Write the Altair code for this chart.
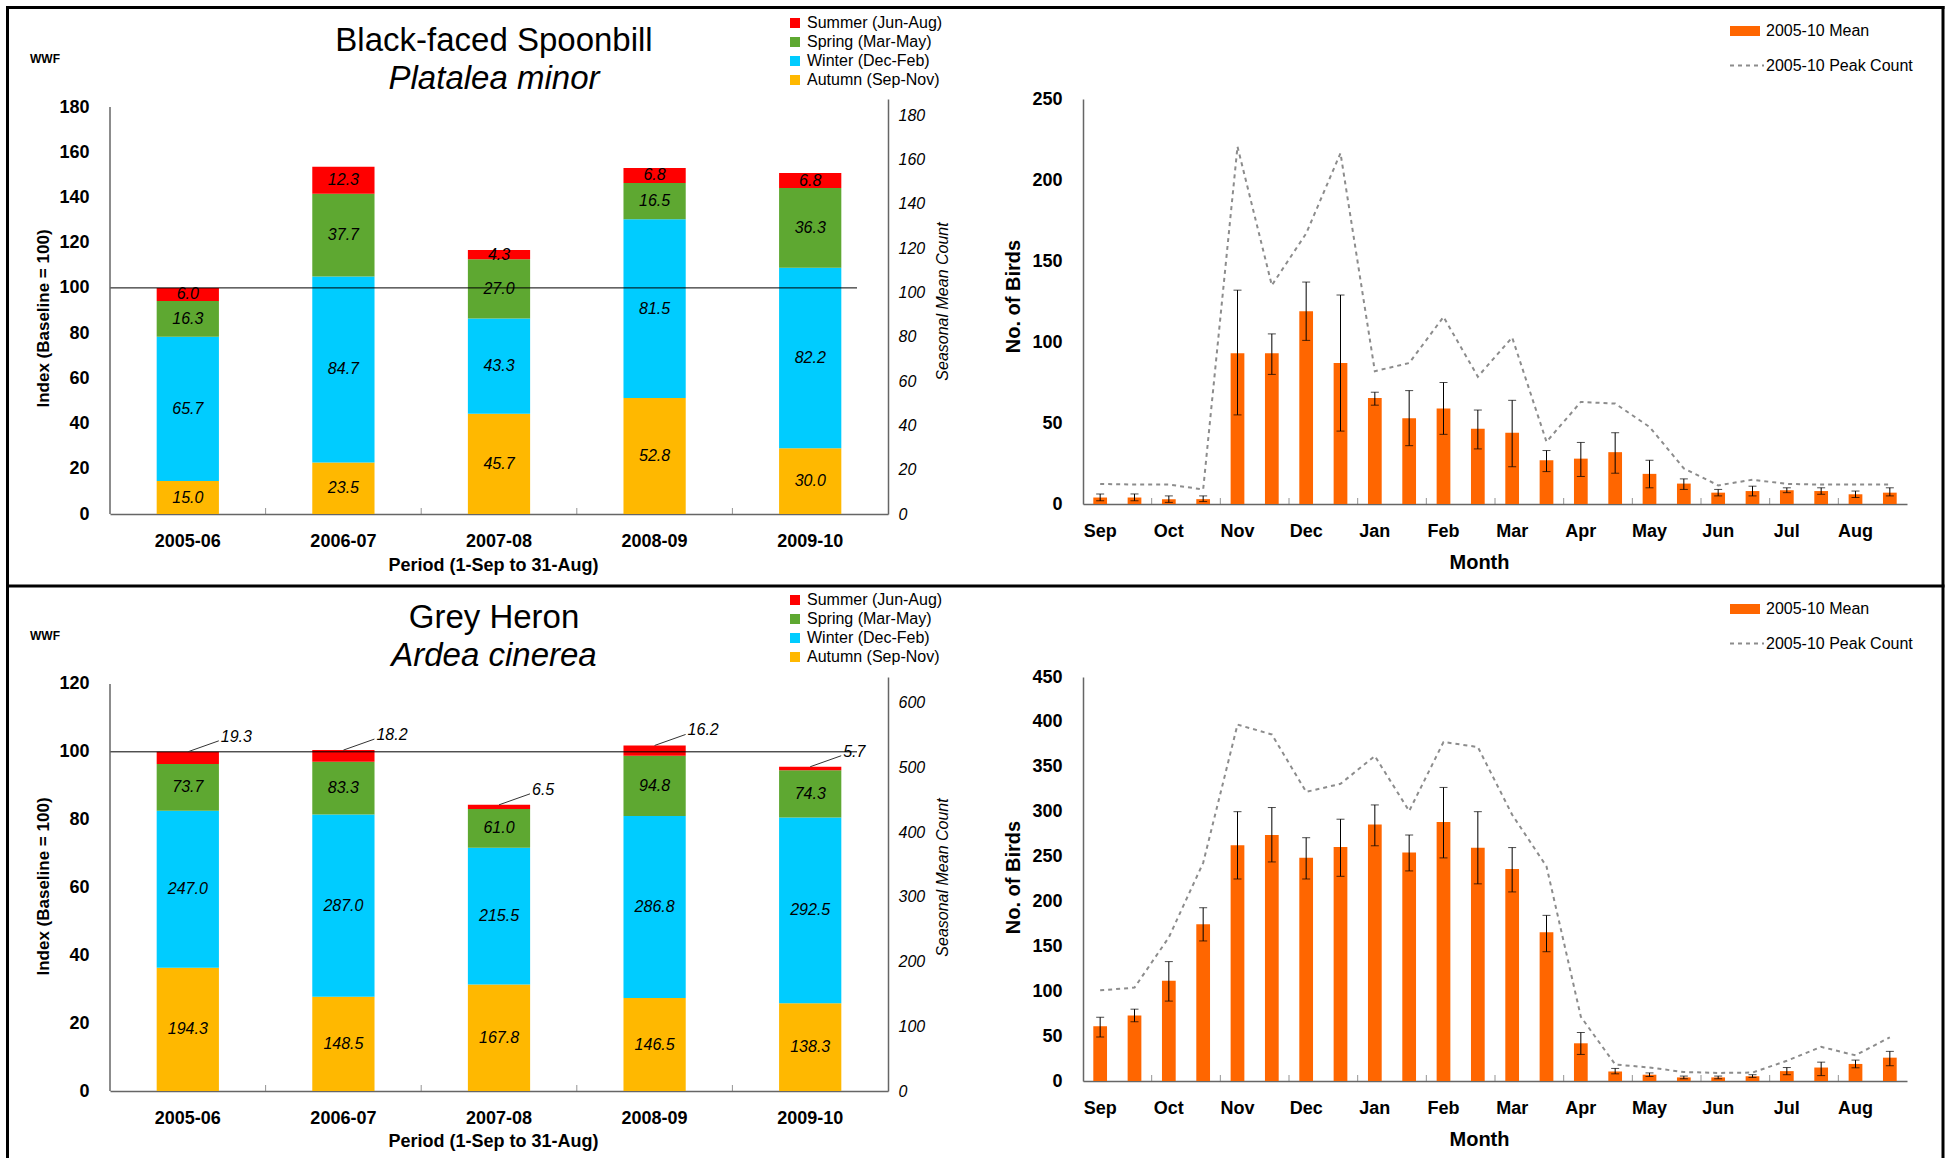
import altair as alt
import pandas as pd

FONT = "Liberation Sans"

# ---------------- data ----------------
periods = ["2005-06", "2006-07", "2007-08", "2008-09", "2009-10"]
season_names = ["Autumn (Sep-Nov)", "Winter (Dec-Feb)", "Spring (Mar-May)", "Summer (Jun-Aug)"]
legend_order = ["Summer (Jun-Aug)", "Spring (Mar-May)", "Winter (Dec-Feb)", "Autumn (Sep-Nov)"]
legend_colors = ["#FF0000", "#5EA831", "#00CCFF", "#FFB800"]

bfs_autumn = [15.0, 23.5, 45.7, 52.8, 30.0]
bfs_winter = [65.7, 84.7, 43.3, 81.5, 82.2]
bfs_spring = [16.3, 37.7, 27.0, 16.5, 36.3]
bfs_summer = [6.0, 12.3, 4.3, 6.8, 6.8]

gh_autumn = [194.3, 148.5, 167.8, 146.5, 138.3]
gh_winter = [247.0, 287.0, 215.5, 286.8, 292.5]
gh_spring = [73.7, 83.3, 61.0, 94.8, 74.3]
gh_summer = [19.3, 18.2, 6.5, 16.2, 5.7]

months = ["Sep", "Oct", "Nov", "Dec", "Jan", "Feb", "Mar", "Apr", "May", "Jun", "Jul", "Aug"]

bfs_mean = [4, 4, 3, 3, 93, 93, 119, 87, 65.5, 53, 59, 46.5, 44, 27, 28, 32, 18.6, 12.6, 7, 8, 8.5, 8, 6, 7]
bfs_lo = [2, 2, 1, 1.5, 55, 80, 101, 45, 61, 36, 43, 34, 23, 20, 17, 19, 10, 9, 5, 5, 7, 6, 4, 5]
bfs_hi = [6.2, 6.2, 5, 5, 132, 105, 137, 129, 69, 70, 75, 58, 64, 33, 38, 44, 27, 15.5, 9, 11, 10, 10, 8, 10]
bfs_peak = [12.4, 12, 12, 9, 220.6, 135, 167, 216.6, 82, 87, 115.5, 78.6, 102.8, 38.4, 63, 62, 47.6, 22,
            11.5, 15, 12.4, 12, 12, 12]

gh_mean = [61, 73, 111.7, 174.7, 262.7, 274, 248.8, 260.6, 285.6, 254.5, 288.5, 259.8, 236, 165.7, 42, 10.6,
           7, 4, 4, 5.3, 11, 15, 19, 26]
gh_lo = [49, 66, 89, 156, 225, 244, 225, 228, 262, 234, 248.5, 219.6, 210.6, 144, 29.6, 8, 5, 2.5, 2.5, 4, 7,
         6, 14.7, 17]
gh_hi = [71, 80, 133, 193, 300, 304.6, 271, 291.6, 307.5, 274, 327, 300, 260, 184.5, 54, 14, 9, 5.5, 5.5, 7,
         15, 21, 23.3, 33]
gh_peak = [101, 104, 160, 243, 397, 386, 322, 331, 362, 300.7, 377.6, 372, 296.6, 239, 71.6, 18.4, 15, 10, 9,
           9.4, 22.5, 38, 28.6, 48.7]

LW, RW = 778, 824
dummy = pd.DataFrame({"k": [0]})


def season_df(a, w, sp, su):
    base = a[0] + w[0] + sp[0] + su[0]
    rows = []
    for i, p in enumerate(periods):
        b = 0.0
        for s, vals in zip(season_names, [a, w, sp, su]):
            v = vals[i]
            h = v / base * 100
            rows.append({"period": p, "season": s, "count": v, "y0": b, "y1": b + h,
                         "mid": b + h / 2, "label": f"{v:.1f}"})
            b += h
    return pd.DataFrame(rows)


def txt(text, x, y, size, **kw):
    return alt.Chart(dummy).mark_text(font=FONT, fontSize=size, color="black", **kw).encode(
        text=alt.value(text), x=alt.value(x), y=alt.value(y))


def season_panel(df, title, subtitle, h, ymax, top_tick, rmax, rticks, summer_outside,
                 ytitle_y, rtitle_y, xtitle_y, legend_y, title_y, frame=False):
    xs = alt.Scale(paddingInner=0.6, paddingOuter=0.3)
    ys = alt.Scale(domain=[0, ymax], nice=False, zero=True)

    xax = alt.Axis(title="Period (1-Sep to 31-Aug)", labelAngle=0, labelFontSize=18, labelFontWeight="bold",
                   labelBaseline="middle", labelPadding=27, titleFontSize=18, titleFontWeight="bold",
                   titleBaseline="middle", titleY=xtitle_y, titleX=383, titleAlign="center",
                   domainColor="#666666", domainWidth=1.5)
    yax = alt.Axis(title="Index (Baseline = 100)", values=list(range(0, top_tick + 1, 20)), domain=False,
                   labelFontSize=18, labelFontWeight="bold", labelPadding=21, titleFontSize=17,
                   titleFontWeight="bold", titleAngle=270, titleX=-67, titleY=ytitle_y,
                   titleAlign="center", titleBaseline="middle")

    XP = lambda **kw: alt.X("period:N", sort=periods, scale=xs, **kw)

    bars = alt.Chart(df).mark_bar().encode(
        x=XP(axis=xax),
        y=alt.Y("y0:Q", scale=ys, axis=yax),
        y2="y1:Q",
        color=alt.Color("season:N", scale=alt.Scale(domain=legend_order, range=legend_colors),
                        legend=alt.Legend(orient="none", legendX=677, legendY=legend_y, title=None,
                                          symbolType="square", symbolSize=100, symbolStrokeWidth=0,
                                          labelFont=FONT, labelFontSize=16, labelColor="black",
                                          rowPadding=3, labelOffset=4, padding=0)),
    )

    inner = alt.Chart(df)
    if summer_outside:
        inner = inner.transform_filter(alt.datum.season != "Summer (Jun-Aug)")
    labels = inner.mark_text(font=FONT, fontSize=16, fontStyle="italic", color="black").encode(
        x=XP(), y=alt.Y("mid:Q", scale=ys), text="label:N")

    base_rule = alt.Chart(pd.DataFrame({"v": [100]})).mark_rule(color="black", strokeWidth=1).encode(
        y=alt.Y("v:Q", scale=ys), x=alt.value(0), x2=alt.value(747))

    yline = alt.Chart(pd.DataFrame({"a": [0], "b": [top_tick]})).mark_rule(
        color="#666666", strokeWidth=1.5).encode(
        x=alt.value(0), y=alt.Y("a:Q", scale=ys), y2="b:Q")

    cat_ticks = alt.Chart(pd.DataFrame({"period": periods[1:]})).mark_tick(
        orient="vertical", size=6, thickness=1, color="#666666", xOffset=-0.3 * LW / 5, yOffset=-3).encode(
        x=XP(bandPosition=0), y=alt.datum(0))

    layers = [bars, labels, base_rule, yline, cat_ticks]

    if summer_outside:
        summ = alt.Chart(df).transform_filter(alt.datum.season == "Summer (Jun-Aug)")
        leader = summ.mark_rule(color="#333333", strokeWidth=1, x2Offset=31, y2Offset=-11).encode(
            x=XP(), x2=alt.X2("period:N"), y=alt.Y("y1:Q", scale=ys), y2=alt.Y2("y1:Q"))
        out_lab = summ.mark_text(font=FONT, fontSize=16, fontStyle="italic", color="black",
                                 align="left", dx=33, dy=-15).encode(
            x=XP(), y=alt.Y("y1:Q", scale=ys), text="label:N")
        layers += [leader, out_lab]

    layers += [
        txt(title, 384, title_y, 33, align="center", baseline="middle"),
        txt(subtitle, 384, title_y + 38, 33, align="center", baseline="middle", fontStyle="italic"),
        txt("WWF", -65, title_y + 18, 12, align="center", baseline="middle", fontWeight="bold"),
    ]

    if frame:
        def rule(**enc):
            return alt.Chart(dummy).mark_rule(color="black", strokeWidth=3).encode(**enc)
        layers += [
            rule(x=alt.value(-102.5), y=alt.value(-93), y2=alt.value(1059)),
            rule(x=alt.value(1833), y=alt.value(-93), y2=alt.value(1059)),
            rule(y=alt.value(-91.5), x=alt.value(-104), x2=alt.value(1834.5)),
            rule(y=alt.value(487), x=alt.value(-104), x2=alt.value(1834.5)),
        ]

    rax = alt.Axis(orient="right", title="Seasonal Mean Count", values=rticks, labelFontStyle="italic",
                   labelFontSize=16, labelFontWeight="normal", labelPadding=10, titleFontStyle="italic",
                   titleFontWeight="normal", titleFontSize=16, titleAngle=270, titleX=54, titleY=rtitle_y,
                   titleAlign="center", titleBaseline="middle", domainColor="#666666", domainWidth=1.5)
    right = alt.Chart(df).mark_point(opacity=0).encode(
        y=alt.Y("count:Q", scale=alt.Scale(domain=[0, rmax], nice=False), axis=rax))

    return alt.layer(alt.layer(*layers), right).resolve_scale(y="independent").properties(width=LW, height=h)


def month_panel(mean, lo, hi, peak, ymax, h, ytitle_y):
    slots = [f"{m}{k}" for m in months for k in (1, 2)]
    df = pd.DataFrame({"slot": slots, "mean": mean, "lo": lo, "hi": hi, "peak": peak})
    xs = alt.Scale(paddingInner=0.6, paddingOuter=0.3)
    ys = alt.Scale(domain=[0, ymax], nice=False)
    xax = alt.Axis(title="Month", labelAngle=0,
                   labelExpr="substring(datum.value, 3) == '1' ? substring(datum.value, 0, 3) : ''",
                   labelFontSize=18, labelFontWeight="bold", labelBaseline="middle", labelPadding=27,
                   titleFontSize=20, titleFontWeight="bold", titleBaseline="middle", titleY=58,
                   titleX=396, titleAlign="center", domainColor="#666666", domainWidth=1.5)
    yax = alt.Axis(title="No. of Birds", values=list(range(0, ymax + 1, 50)), labelFontSize=18,
                   labelFontWeight="bold", labelPadding=21, titleFontSize=20, titleFontWeight="bold",
                   titleAngle=270, titleX=-70, titleY=ytitle_y, titleAlign="center", titleBaseline="middle",
                   domainColor="#666666", domainWidth=1.5)
    X = lambda **kw: alt.X("slot:N", sort=slots, scale=xs, **kw)

    bars = alt.Chart(df).mark_bar(color="#FF6600").encode(x=X(axis=xax), y=alt.Y("mean:Q", scale=ys, axis=yax))
    line = alt.Chart(df).mark_line(color="#8C8C8C", strokeWidth=2, strokeDash=[4, 4]).encode(
        x=X(), y=alt.Y("peak:Q", scale=ys))
    err = alt.Chart(df).mark_rule(color="black", strokeWidth=1).encode(
        x=X(), y=alt.Y("lo:Q", scale=ys), y2="hi:Q")
    cap_lo = alt.Chart(df).mark_tick(color="black", thickness=1, size=8).encode(
        x=X(), y=alt.Y("lo:Q", scale=ys))
    cap_hi = alt.Chart(df).mark_tick(color="black", thickness=1, size=8).encode(
        x=X(), y=alt.Y("hi:Q", scale=ys))
    mticks = alt.Chart(pd.DataFrame({"slot": [m + "1" for m in months[1:]]})).mark_tick(
        orient="vertical", size=6, thickness=1, color="#666666", xOffset=-0.3 * RW / 24, yOffset=-3).encode(
        x=X(bandPosition=0), y=alt.datum(0))

    leg_rect = alt.Chart(dummy).mark_rect(color="#FF6600").encode(
        x=alt.value(647), x2=alt.value(677), y=alt.value(-73), y2=alt.value(-63))
    leg_line = alt.Chart(dummy).mark_rule(color="#8C8C8C", strokeWidth=2, strokeDash=[4, 4]).encode(
        x=alt.value(647), x2=alt.value(681), y=alt.value(-33.5))
    leg_t1 = txt("2005-10 Mean", 683, -68, 16, align="left", baseline="middle")
    leg_t2 = txt("2005-10 Peak Count", 683, -33.5, 16, align="left", baseline="middle")

    return alt.layer(bars, line, err, cap_lo, cap_hi, mticks, leg_rect, leg_line, leg_t1, leg_t2).properties(
        width=RW, height=h)


tl = season_panel(season_df(bfs_autumn, bfs_winter, bfs_spring, bfs_summer),
                  "Black-faced Spoonbill", "Platalea minor", h=415, ymax=183.54, top_tick=180,
                  rmax=187.4, rticks=list(range(0, 181, 20)), summer_outside=False,
                  ytitle_y=219, rtitle_y=202, xtitle_y=51, legend_y=-84, title_y=-58, frame=True)
bl = season_panel(season_df(gh_autumn, gh_winter, gh_spring, gh_summer),
                  "Grey Heron", "Ardea cinerea", h=414, ymax=122.06, top_tick=120,
                  rmax=639.5, rticks=list(range(0, 601, 100)), summer_outside=True,
                  ytitle_y=209, rtitle_y=200, xtitle_y=50, legend_y=-85, title_y=-59)
tr = month_panel(bfs_mean, bfs_lo, bfs_hi, bfs_peak, ymax=250, h=405, ytitle_y=197)
br = month_panel(gh_mean, gh_lo, gh_hi, gh_peak, ymax=450, h=404, ytitle_y=200)

chart = alt.concat(
    tl, tr, bl, br, columns=2,
    spacing={"row": 163, "column": 195},
    bounds="flush", align="each",
    padding={"left": 4, "top": 4, "right": 0, "bottom": 0},
).resolve_scale(color="independent").configure(font=FONT, background="white").configure_view(
    stroke=None).configure_axis(labelFont=FONT, titleFont=FONT, labelColor="black", titleColor="black",
                                grid=False, ticks=False, tickSize=0)

chart.save("out.html", embed_options={"renderer": "svg", "actions": False})
